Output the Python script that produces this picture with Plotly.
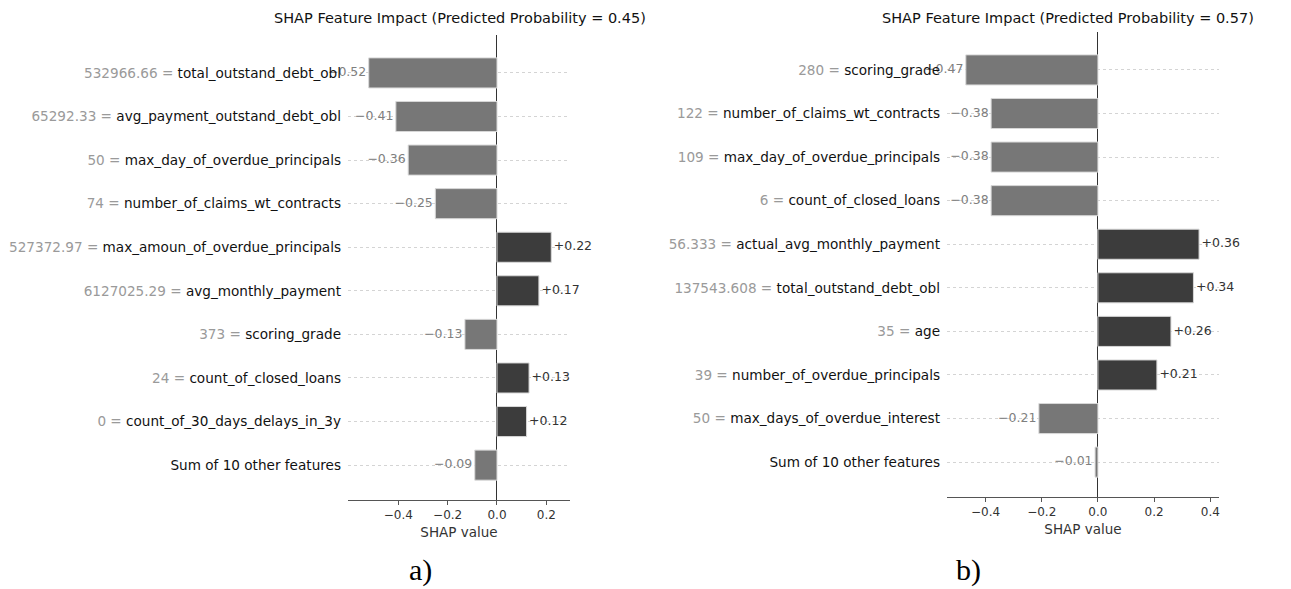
import plotly.graph_objects as go

# ---------------- data ----------------
left_values = ["532966.66", "65292.33", "50", "74", "527372.97", "6127025.29", "373", "24", "0", ""]
left_features = ["total_outstand_debt_obl", "avg_payment_outstand_debt_obl", "max_day_of_overdue_principals",
                 "number_of_claims_wt_contracts", "max_amoun_of_overdue_principals", "avg_monthly_payment",
                 "scoring_grade", "count_of_closed_loans", "count_of_30_days_delays_in_3y",
                 "Sum of 10 other features"]
left_shap = [-0.52, -0.41, -0.36, -0.25, 0.22, 0.17, -0.13, 0.13, 0.12, -0.09]

right_values = ["280", "122", "109", "6", "56.333", "137543.608", "35", "39", "50", ""]
right_features = ["scoring_grade", "number_of_claims_wt_contracts", "max_day_of_overdue_principals",
                  "count_of_closed_loans", "actual_avg_monthly_payment", "total_outstand_debt_obl",
                  "age", "number_of_overdue_principals", "max_days_of_overdue_interest",
                  "Sum of 10 other features"]
right_shap = [-0.47, -0.38, -0.38, -0.38, 0.36, 0.34, 0.26, 0.21, -0.21, -0.01]

x_ticks_left = [-0.4, -0.2, 0.0, 0.2]
x_ticks_right = [-0.4, -0.2, 0.0, 0.2, 0.4]

NEG_BAR = "#777777"
POS_BAR = "#3c3c3c"
NEG_TXT = "#7f7f7f"
POS_TXT = "#333333"
FONT = "DejaVu Sans"

fig = go.Figure()


def fmt(v):
    return ("+" if v > 0 else "\u2212") + f"{abs(v):.2f}"


def label(val, feat):
    if val == "":
        return feat
    return f'<span style="color:#9a9a9a">{val} = </span>{feat}'


def add_panel(values, features, shap, xa, ya):
    ys = list(range(len(shap)))
    fig.add_trace(go.Bar(
        x=shap, y=ys, orientation="h", width=0.69,
        marker=dict(color=[POS_BAR if v > 0 else NEG_BAR for v in shap],
                    line=dict(color="#d8d8d8", width=1)),
        xaxis=xa, yaxis=ya, showlegend=False, hoverinfo="skip"))
    neg = [(v, y) for v, y in zip(shap, ys) if v < 0]
    pos = [(v, y) for v, y in zip(shap, ys) if v > 0]
    fig.add_trace(go.Scatter(
        x=[v for v, _ in neg], y=[y for _, y in neg], mode="text",
        text=[fmt(v) + "\u2009" for v, _ in neg], textposition="middle left",
        textfont=dict(family=FONT, size=12.5, color=NEG_TXT),
        xaxis=xa, yaxis=ya, showlegend=False, cliponaxis=False, hoverinfo="skip"))
    fig.add_trace(go.Scatter(
        x=[v for v, _ in pos], y=[y for _, y in pos], mode="text",
        text=["\u2009" + fmt(v) for v, _ in pos], textposition="middle right",
        textfont=dict(family=FONT, size=12.5, color=POS_TXT),
        xaxis=xa, yaxis=ya, showlegend=False, cliponaxis=False, hoverinfo="skip"))
    return ys, [label(v, f) for v, f in zip(values, features)]


ys_l, tt_l = add_panel(left_values, left_features, left_shap, "x", "y")
ys_r, tt_r = add_panel(right_values, right_features, right_shap, "x2", "y2")

xcommon = dict(showgrid=False, zeroline=True, zerolinecolor="#333333", zerolinewidth=1,
               showline=True, linecolor="#555555", linewidth=1, ticks="outside",
               ticklen=4, tickcolor="#555555", tickformat=".1f",
               tickfont=dict(family=FONT, size=12, color="#333333"),
               title=dict(text="SHAP value", font=dict(family=FONT, size=13.5, color="#333333"),
                          standoff=6))
ycommon = dict(showgrid=True, gridcolor="#d4d4d4", griddash="dot", gridwidth=1,
               zeroline=False, showline=False, ticks="", ticklabelstandoff=6,
               tickfont=dict(family=FONT, size=13.6, color="#111111"), tickmode="array")

fig.update_layout(
    width=1291, height=589,
    margin=dict(l=0, r=0, t=0, b=0),
    paper_bgcolor="white", plot_bgcolor="white",
    bargap=0.3,
    xaxis=dict(domain=[348 / 1291, 570 / 1291], range=[-0.604, 0.296],
               tickvals=x_ticks_left, anchor="y", **xcommon),
    yaxis=dict(domain=[1 - 500 / 589, 1 - 35 / 589], range=[9.8, -0.87],
               tickvals=ys_l, ticktext=tt_l, anchor="x", **ycommon),
    xaxis2=dict(domain=[947 / 1291, 1219 / 1291], range=[-0.537, 0.431],
                tickvals=x_ticks_right, anchor="y2", **xcommon),
    yaxis2=dict(domain=[1 - 497 / 589, 1 - 32 / 589], range=[9.8, -0.87],
                tickvals=ys_r, ticktext=tt_r, anchor="x2", **ycommon),
)

common_ann = dict(xref="paper", yref="paper", showarrow=False, xanchor="center", yanchor="middle")
fig.add_annotation(text="SHAP Feature Impact (Predicted Probability = 0.45)",
                   x=460 / 1291, y=1 - 18 / 589,
                   font=dict(family=FONT, size=14.5, color="#111111"), **common_ann)
fig.add_annotation(text="SHAP Feature Impact (Predicted Probability = 0.57)",
                   x=1068 / 1291, y=1 - 18 / 589,
                   font=dict(family=FONT, size=14.5, color="#111111"), **common_ann)
fig.add_annotation(text="a)", x=420 / 1291, y=1 - 570 / 589,
                   font=dict(family="Liberation Serif", size=30, color="#000000"), **common_ann)
fig.add_annotation(text="b)", x=968 / 1291, y=1 - 570 / 589,
                   font=dict(family="Liberation Serif", size=30, color="#000000"), **common_ann)

fig.write_html("out.html")
